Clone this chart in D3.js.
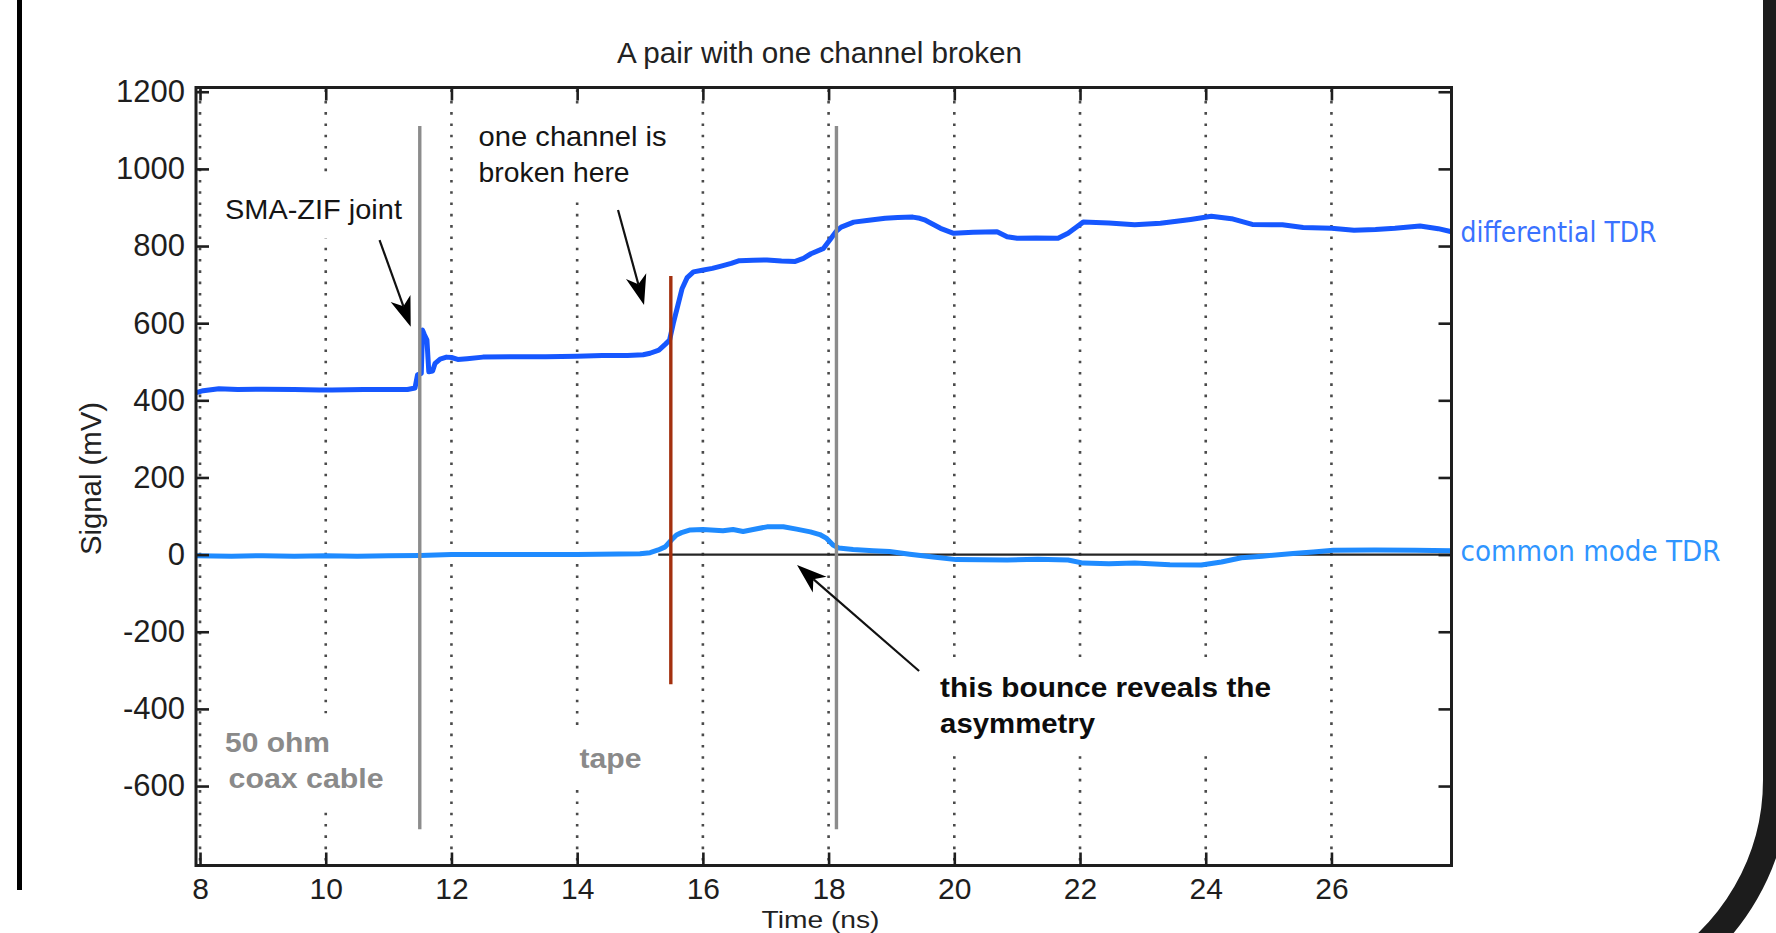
<!DOCTYPE html>
<html>
<head>
<meta charset="utf-8">
<script src="https://cdn.jsdelivr.net/npm/d3@7"></script>
<style>
  html, body { margin: 0; padding: 0; background: #fff; overflow: hidden; }
  svg { display: block; }
</style>
</head>
<body>
<svg id="chart" width="1776" height="933"></svg>
<script>
// ---- axis ticks ----
const xTicks = [8, 10, 12, 14, 16, 18, 20, 22, 24, 26];
const yTicks = [-600, -400, -200, 0, 200, 400, 600, 800, 1000, 1200];

// ---- differential TDR trace (time in ns, signal in mV) ----
const diffTime = [7.94, 8.05, 8.3, 8.6, 9.0, 9.5, 9.9, 10.1, 10.6, 11.0, 11.3, 11.42, 11.46, 11.52,
  11.54, 11.57, 11.61, 11.64, 11.70, 11.74, 11.82, 11.92, 12.0, 12.1, 12.25, 12.5, 13.0, 13.5,
  14.0, 14.4, 14.8, 15.05, 15.16, 15.30, 15.40, 15.47, 15.53, 15.60, 15.67, 15.75, 15.85, 16.01,
  16.15, 16.29, 16.45, 16.58, 16.8, 17.02, 17.25, 17.47, 17.6, 17.72, 17.92, 18.04, 18.12, 18.2,
  18.4, 18.64, 18.9, 19.1, 19.34, 19.45, 19.54, 19.78, 19.99, 20.3, 20.68, 20.84, 21.0, 21.3,
  21.65, 21.81, 21.95, 22.05, 22.46, 22.87, 23.28, 23.76, 24.09, 24.41, 24.74, 25.22, 25.55,
  26.0, 26.36, 26.7, 27.01, 27.41, 27.7, 27.91];
const diffSignal = [420, 425, 430, 428, 429, 428, 427, 427, 428, 428, 428, 432, 466, 470,
  582, 570, 556, 474, 476, 496, 507, 512, 511, 506, 508, 512, 513, 513,
  514, 516, 516, 518, 522, 530, 545, 556, 600, 645, 690, 718, 733, 738,
  742, 748, 755, 762, 763, 764, 761, 760, 768, 780, 794, 820, 838, 849,
  862, 867, 872, 874, 875, 872, 867, 846, 833, 836, 837, 824, 820, 821,
  820, 833, 850, 862, 860, 855, 859, 869, 877, 871, 856, 855, 848,
  846, 841, 843, 846, 852, 845, 837];

// ---- common mode TDR trace ----
const cmTime = [7.94, 8.5, 9.0, 9.5, 10.0, 10.5, 11.0, 11.5, 12.0, 13.0, 14.0, 15.0, 15.16, 15.29,
  15.40, 15.50, 15.58, 15.66, 15.80, 16.0, 16.32, 16.48, 16.64, 16.80, 17.02, 17.28, 17.49,
  17.71, 17.86, 17.97, 18.07, 18.16, 18.39, 18.71, 18.97, 19.29, 19.70, 20.03, 20.84, 21.33,
  21.81, 22.05, 22.46, 22.87, 23.43, 23.93, 24.25, 24.57, 24.9, 25.39, 25.71, 26.03, 26.69,
  27.33, 27.91];
const cmSignal = [-3, -4, -3, -4, -3, -4, -3, -2, 0, 0, 0, 2, 5, 12,
  20, 38, 51, 57, 64, 65, 62, 65, 60, 65, 72, 72, 66,
  59, 52, 42, 25, 17, 13, 10, 8, 1, -7, -13, -14, -12,
  -14, -22, -24, -22, -26, -27, -19, -8, -4, 3, 7, 11, 12,
  11, 10];

// ---- zero reference trace ----
const zeroTime = [15.29, 27.91];
const zeroSignal = [0, 0];

// ---- section markers: position (ns) and vertical extent (mV) ----
const markerTime = [11.496, 15.49, 18.125];
const markerLow = [-712, -336, -712];
const markerHigh = [1111, 722, 1111];
const markerKind = ["joint", "break", "joint"];

// ---- layout ----
const svg = d3.select("#chart");
const plot = { left: 196, right: 1451.5, top: 87.5, bottom: 865.5 };
const x = d3.scaleLinear().domain([7.936, 27.91]).range([plot.left, plot.right]);
const y = d3.scaleLinear().domain([-806, 1211]).range([plot.bottom, plot.top]);

const FONT = "'Liberation Sans', Arial, Helvetica, sans-serif";
const INK = "#1e1e1e";

svg.append("rect").attr("width", 1776).attr("height", 933).attr("fill", "#fff");

// slide frame decoration
svg.append("rect").attr("x", 17).attr("y", 0).attr("width", 5).attr("height", 890).attr("fill", "#000");
{
  const cx = 1550.4, cy = 780, r = 225.6, a = Math.PI / 3;
  svg.append("path")
    .attr("d", `M1776,-20 L1776,${cy} A${r},${r} 0 0 1 ${cx + r * Math.cos(a)},${cy + r * Math.sin(a)}`)
    .attr("fill", "none").attr("stroke", "#1c1c1c").attr("stroke-width", 26);
}

// dotted vertical grid
svg.append("g").selectAll("line").data(xTicks).join("line")
  .attr("x1", d => x(d)).attr("x2", d => x(d))
  .attr("y1", plot.top + 2).attr("y2", plot.bottom - 1)
  .attr("stroke", "#4a4a4a").attr("stroke-width", 2.6)
  .attr("stroke-dasharray", "2.6 8.7");

const noteBg = svg.append("g");
const noteFg = svg.append("g");

function addText(parent, o) {
  const t = parent.append("text")
    .attr("x", o.x).attr("y", o.y)
    .attr("font-family", o.family || FONT)
    .attr("font-size", o.size)
    .attr("font-weight", o.weight || "normal")
    .attr("fill", o.fill || INK)
    .attr("text-anchor", o.anchor || "start")
    .text(o.text);
  if (o.dy) t.attr("dy", o.dy);
  if (o.len) t.attr("textLength", o.len).attr("lengthAdjust", "spacingAndGlyphs");
  if (o.transform) t.attr("transform", o.transform);
  return t;
}

// annotation texts, anchored in data coordinates (ns, mV)
const notes = [
  { lines: ["SMA-ZIF joint"], t: 8.397, v: [871], len: [177], weight: "normal", fill: "#151515" },
  { lines: ["one channel is", "broken here"], t: 12.432, v: [1060.6, 967.3], len: [188, 151], weight: "normal", fill: "#151515" },
  { lines: ["this bounce reveals the", "asymmetry"], t: 19.774, v: [-369, -462.5], len: [331, 155], weight: "bold", fill: "#0d0d0d" },
  { lines: ["50 ohm", "coax cable"], t: [8.397, 8.455], v: [-513, -606], len: [105, 155], weight: "bold", fill: "#8a8a8a" },
  { lines: ["tape"], t: 14.038, v: [-552], len: [62], weight: "bold", fill: "#8a8a8a" }
];
notes.forEach(n => {
  const g = noteFg.append("g");
  n.lines.forEach((s, i) => {
    const tt = Array.isArray(n.t) ? n.t[i] : n.t;
    addText(g, { x: x(tt), y: y(n.v[i]), text: s, size: 28, weight: n.weight, fill: n.fill, len: n.len[i] });
  });
  const b = g.node().getBBox();
  noteBg.append("rect")
    .attr("x", b.x - 12).attr("y", b.y - 14)
    .attr("width", b.width + 24).attr("height", b.height + 28)
    .attr("fill", "#fff");
});

// traces
const line = d3.line().x(d => x(d[0])).y(d => y(d[1]));
const zeroPts = zeroTime.map((t, i) => [t, zeroSignal[i]]);
const cmPts = cmTime.map((t, i) => [t, cmSignal[i]]);
const diffPts = diffTime.map((t, i) => [t, diffSignal[i]]);

svg.append("path").datum(zeroPts).attr("d", line)
  .attr("fill", "none").attr("stroke", "#262626").attr("stroke-width", 2.4);
svg.append("path").datum(cmPts).attr("d", line)
  .attr("fill", "none").attr("stroke", "#1f8bff").attr("stroke-width", 5)
  .attr("stroke-linejoin", "round");
svg.append("path").datum(diffPts).attr("d", line)
  .attr("fill", "none").attr("stroke", "#1657ff").attr("stroke-width", 5)
  .attr("stroke-linejoin", "round");

// section markers
svg.append("g").selectAll("line").data(markerTime).join("line")
  .attr("x1", d => x(d)).attr("x2", d => x(d))
  .attr("y1", (d, i) => y(markerHigh[i])).attr("y2", (d, i) => y(markerLow[i]))
  .attr("stroke", (d, i) => markerKind[i] === "break" ? "#a3300e" : "#8c8c8c")
  .attr("stroke-width", 3.4);

// arrows: [start time, start mV, tip time, tip mV]
const arrows = [
  [10.856, 815.6, 11.352, 590.9],
  [14.650, 893.4, 15.064, 647.0],
  [19.44, -301.7, 17.498, -27.0]
];
const ag = svg.append("g");
arrows.forEach(a => {
  const x0 = x(a[0]), y0 = y(a[1]), x1 = x(a[2]), y1 = y(a[3]);
  const dx = x1 - x0, dy = y1 - y0, L = Math.hypot(dx, dy);
  const ux = dx / L, uy = dy / L, nx = -uy, ny = ux;
  const hl = 30, hw = 10.5, notch = 0.72;
  ag.append("line").attr("x1", x0).attr("y1", y0)
    .attr("x2", x1 - ux * hl * notch).attr("y2", y1 - uy * hl * notch)
    .attr("stroke", "#111").attr("stroke-width", 2.2);
  const pts = [
    [x1, y1],
    [x1 - ux * hl + nx * hw, y1 - uy * hl + ny * hw],
    [x1 - ux * hl * notch, y1 - uy * hl * notch],
    [x1 - ux * hl - nx * hw, y1 - uy * hl - ny * hw]
  ];
  ag.append("polygon").attr("points", pts.map(p => p.join(",")).join(" ")).attr("fill", "#000");
});

// axes with inward ticks
function styleAxis(size) {
  return g => {
    g.select(".domain").remove();
    g.attr("font-family", FONT).attr("font-size", size).attr("color", INK);
    g.selectAll(".tick line").attr("stroke", INK).attr("stroke-width", 2.6);
  };
}
svg.append("g").attr("transform", `translate(0,${plot.bottom})`)
  .call(d3.axisBottom(x).tickValues(xTicks).tickSizeInner(-13).tickSizeOuter(0)
    .tickPadding(12.5).tickFormat(d => String(d)))
  .call(styleAxis(30));
svg.append("g").attr("transform", `translate(0,${plot.top})`)
  .call(d3.axisTop(x).tickValues(xTicks).tickSizeInner(-13).tickSizeOuter(0).tickFormat(""))
  .call(styleAxis(30));
svg.append("g").attr("transform", `translate(${plot.left},0)`)
  .call(d3.axisLeft(y).tickValues(yTicks).tickSizeInner(-13).tickSizeOuter(0)
    .tickPadding(11).tickFormat(d => String(d)))
  .call(styleAxis(31));
svg.append("g").attr("transform", `translate(${plot.right},0)`)
  .call(d3.axisRight(y).tickValues(yTicks).tickSizeInner(-13).tickSizeOuter(0).tickFormat(""))
  .call(styleAxis(31));

// plot box
svg.append("rect")
  .attr("x", plot.left).attr("y", plot.top)
  .attr("width", plot.right - plot.left).attr("height", plot.bottom - plot.top)
  .attr("fill", "none").attr("stroke", INK).attr("stroke-width", 3);

// title and axis labels
addText(svg, { x: 819.5, y: 63, text: "A pair with one channel broken", size: 29, anchor: "middle", len: 405, fill: "#222" });
addText(svg, { x: 0, y: 0, text: "Signal (mV)", size: 29, anchor: "middle", len: 153, fill: "#222",
  transform: "translate(101,478.5) rotate(-90)" });
addText(svg, { x: 820.5, y: 928, text: "Time (ns)", size: 24, anchor: "middle", len: 118, fill: "#222" });

// trace labels beside the right axis, aligned with each trace's last value
addText(svg, { x: plot.right + 9, y: y(diffSignal[diffSignal.length - 1]), dy: "0.36em",
  text: "differential TDR", size: 28, family: "'DejaVu Sans', Verdana, sans-serif", fill: "#3a72ff", len: 196 });
addText(svg, { x: plot.right + 9, y: y(cmSignal[cmSignal.length - 1]), dy: "0.36em",
  text: "common mode TDR", size: 28, family: "'DejaVu Sans', Verdana, sans-serif", fill: "#2f95ff", len: 260 });
</script>
</body>
</html>
